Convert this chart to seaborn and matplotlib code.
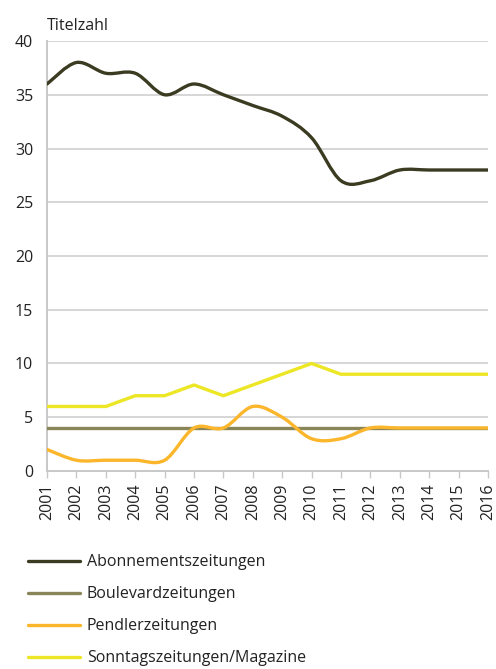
import numpy as np
import pandas as pd
import matplotlib
matplotlib.use("Agg")
import matplotlib.pyplot as plt
from matplotlib.path import Path
from matplotlib.patches import PathPatch
from matplotlib.lines import Line2D
import seaborn as sns

years = list(range(2001, 2017))
abonnement = [36, 38, 37, 37, 35, 36, 35, 34, 33, 31, 27, 27, 28, 28, 28, 28]
boulevard = [4, 4, 4, 4, 4, 4, 4, 4, 4, 4, 4, 4, 4, 4, 4, 4]
pendler = [2, 1, 1, 1, 1, 4, 4, 6, 5, 3, 3, 4, 4, 4, 4, 4]
sonntag = [6, 6, 6, 7, 7, 8, 7, 8, 9, 10, 9, 9, 9, 9, 9, 9]
names = ["Abonnementszeitungen", "Boulevardzeitungen", "Pendlerzeitungen",
         "Sonntagszeitungen/Magazine"]
colors = ["#3b3b22", "#8a8558", "#fbb62b", "#ece624"]
smooth = [True, False, True, False]

sns.set_theme(style="white")
plt.rcParams["font.family"] = ["Open Sans", "DejaVu Sans"]

fig = plt.figure(figsize=(4.96, 6.69), dpi=100)
ax = fig.add_axes([0.0948, 0.296, 0.889, 0.6427])

df = pd.DataFrame({"Jahr": years, names[0]: abonnement, names[1]: boulevard,
                   names[2]: pendler, names[3]: sonntag})
x = np.arange(len(years))
lw = 2.4

def bezier_path(xs, ys):
    pts = np.column_stack([xs, ys]).astype(float)
    n = len(pts)
    verts = [pts[0]]
    codes = [Path.MOVETO]
    for i in range(n - 1):
        p0 = pts[i - 1] if i > 0 else pts[i]
        p1 = pts[i]
        p2 = pts[i + 1]
        p3 = pts[i + 2] if i + 2 < n else pts[i + 1]
        c1 = p1 + (p2 - p0) / 6.0
        c2 = p2 - (p3 - p1) / 6.0
        verts += [c1, c2, p2]
        codes += [Path.CURVE4] * 3
    return Path(verts, codes)

for name, col, sm in zip(names, colors, smooth):
    if sm:
        patch = PathPatch(bezier_path(x, df[name].values), facecolor="none",
                          edgecolor=col, lw=lw, capstyle="round", joinstyle="round",
                          zorder=3)
        ax.add_patch(patch)
    else:
        sns.lineplot(x=x, y=df[name].values, ax=ax, color=col, lw=lw,
                     legend=False, zorder=3)

ax.set_xlim(0, len(years) - 1)
ax.set_ylim(0, 40)
ax.set_yticks(range(0, 41, 5))
ax.set_xticks(x)
ax.set_xticklabels([str(y) for y in years], rotation=90, fontsize=11.5, color="#222222")
ax.tick_params(axis="y", labelsize=11.5, labelcolor="#222222", length=0, pad=10)
ax.tick_params(axis="x", length=5, color="#c8c8c8", width=1, bottom=True,
               direction="out", pad=4)
for yv in range(5, 41, 5):
    ax.axhline(yv, color="#d0d0d0", lw=1.2, zorder=1)
for s in ["top", "right"]:
    ax.spines[s].set_visible(False)
for s in ["left", "bottom"]:
    ax.spines[s].set_color("#c8c8c8")
    ax.spines[s].set_linewidth(1.4)
ax.set_xlabel("")
ax.set_ylabel("")
ax.grid(False)

fig.text(0.0948, 0.955, "Titelzahl", fontsize=11.5, color="#222222",
         va="baseline", ha="left")

handles = [Line2D([0], [0], color=c, lw=lw) for c in colors]
fig.legend(handles, names, loc="upper left", bbox_to_anchor=(0.043, 0.181),
           frameon=False, fontsize=11.5, handlelength=3.25, handletextpad=0.45,
           labelspacing=1.0, borderaxespad=0, labelcolor="#222222")

fig.savefig("out.png", dpi=100)
